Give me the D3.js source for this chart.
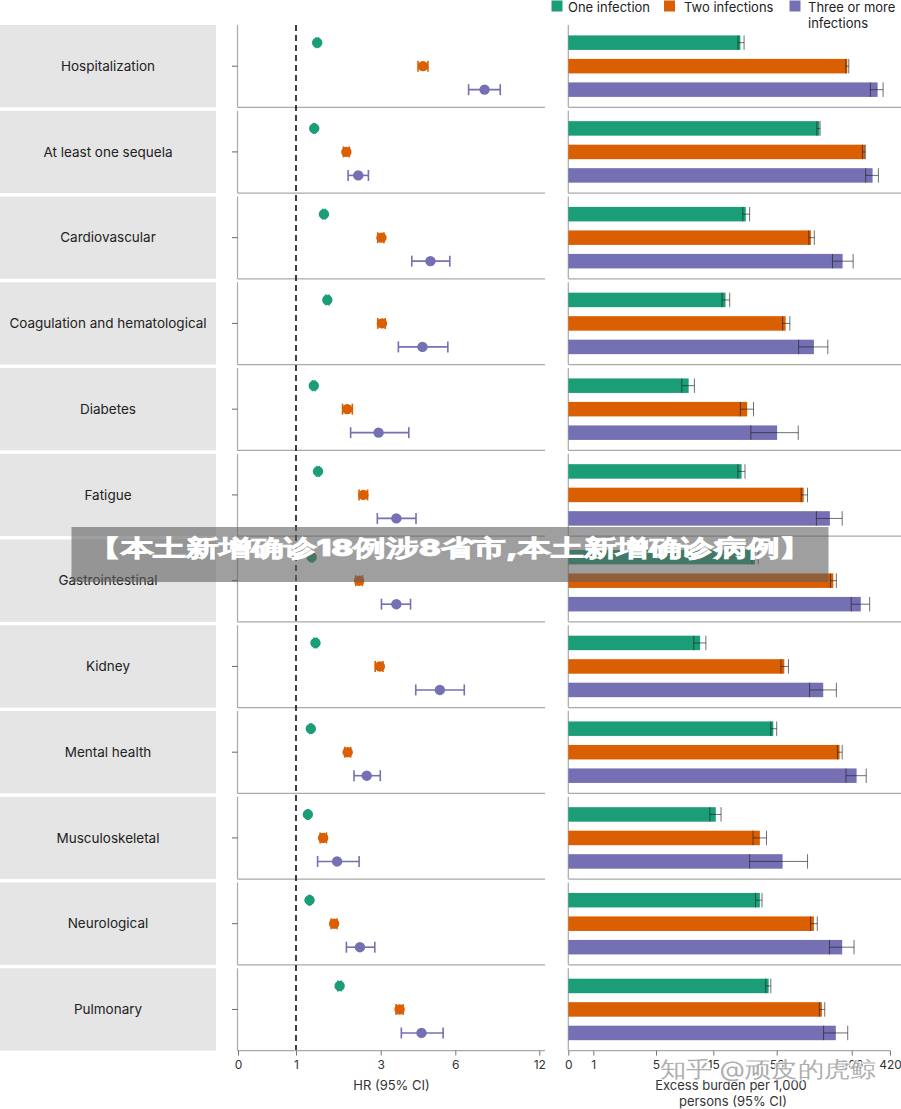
<!DOCTYPE html>
<html>
<head>
<meta charset="utf-8">
<script src="https://cdn.jsdelivr.net/npm/d3@7/dist/d3.min.js"></script>
<style>
  html, body { margin: 0; padding: 0; background: #fff; }
  svg { display: block; }
  text { font-family: Inter, "Noto Sans", "DejaVu Sans", sans-serif; }
</style>
</head>
<body>
<svg id="chart" width="901" height="1109"></svg>
<script>
// ---------------- data ----------------
const categories = ["Hospitalization", "At least one sequela", "Cardiovascular",
  "Coagulation and hematological", "Diabetes", "Fatigue", "Gastrointestinal",
  "Kidney", "Mental health", "Musculoskeletal", "Neurological", "Pulmonary"];

const seriesNames = ["One infection", "Two infections", "Three or more infections"];
const seriesColors = ["#1b9e77", "#d95f02", "#7570b3"];

// Hazard ratios (95% CI)
const hrOne     = [1.50, 1.43, 1.66, 1.74, 1.42, 1.52, 1.37, 1.46, 1.35, 1.28, 1.32, 2.03];
const hrOneLo   = [1.47, 1.41, 1.63, 1.70, 1.39, 1.49, 1.34, 1.43, 1.33, 1.26, 1.30, 1.99];
const hrOneHi   = [1.53, 1.45, 1.69, 1.78, 1.45, 1.55, 1.40, 1.49, 1.37, 1.30, 1.34, 2.07];
const hrTwo     = [4.70, 2.19, 3.03, 3.05, 2.21, 2.59, 2.49, 2.98, 2.22, 1.64, 1.90, 3.76];
const hrTwoLo   = [4.50, 2.12, 2.93, 2.93, 2.10, 2.49, 2.41, 2.87, 2.15, 1.57, 1.83, 3.62];
const hrTwoHi   = [4.90, 2.26, 3.13, 3.18, 2.33, 2.69, 2.57, 3.09, 2.29, 1.72, 1.97, 3.90];
const hrThree   = [8.09, 2.47, 5.00, 4.68, 2.95, 3.63, 3.63, 5.38, 2.67, 1.97, 2.51, 4.64];
const hrThreeLo = [6.95, 2.23, 4.25, 3.71, 2.29, 2.92, 3.03, 4.41, 2.37, 1.51, 2.19, 3.83];
const hrThreeHi = [9.21, 2.71, 5.78, 5.70, 4.13, 4.42, 4.20, 6.64, 2.99, 2.49, 2.86, 5.51];

// Excess burden per 1,000 persons (95% CI)
const bOne     = [32.5, 143, 36.0, 22.9, 10.7, 33.3, 42, 12.7, 53.8, 16.6, 45.1, 50.8];
const bOneLo   = [31.0, 138, 34.1, 20.7, 9.5, 30.9, 40, 11.6, 52.2, 14.4, 42.3, 48.9];
const bOneHi   = [34.9, 144.5, 38.5, 25.6, 11.7, 35.5, 44, 13.7, 56, 20, 46.5, 52.2];
const bTwo     = [200, 282, 125.8, 74.2, 36.9, 111.1, 171.5, 71.5, 184.3, 45.1, 131.9, 148.2];
const bTwoLo   = [197, 268, 121.5, 68.1, 32.5, 106, 165.6, 64.6, 180, 40.7, 125, 143];
const bTwoHi   = [203, 284, 132.7, 82.8, 41.0, 118.9, 177.7, 80, 189.6, 49.4, 138.8, 154];
const bThree   = [351.7, 324, 190.4, 131.9, 56.8, 164.5, 259, 150.9, 236, 68.0, 189.6, 176.6];
const bThreeLo = [312, 286, 169.8, 100.7, 39.3, 137, 208, 123, 197.4, 38.5, 163.7, 151.6];
const bThreeHi = [382, 356, 217, 160.3, 99.9, 189.6, 308, 177.7, 289, 118.9, 222, 200.9];

const hrTicks = [0, 1, 3, 6, 12];
const burdenTicks = [0, 1, 5, 15, 56, 209, 420];

const bannerText = "【本土新增确诊18例涉8省市,本土新增确诊病例】";
const watermarkText = "知乎 @顽皮的虎鲸";

// ---------------- build ----------------
const hrSets = [[hrOne, hrOneLo, hrOneHi], [hrTwo, hrTwoLo, hrTwoHi], [hrThree, hrThreeLo, hrThreeHi]];
const bSets = [[bOne, bOneLo, bOneHi], [bTwo, bTwoLo, bTwoHi], [bThree, bThreeLo, bThreeHi]];

const records = [];
categories.forEach((c, i) => {
  seriesNames.forEach((s, k) => {
    records.push({
      cat: c, s: k,
      hr: hrSets[k][0][i], hrLo: hrSets[k][1][i], hrHi: hrSets[k][2][i],
      b: bSets[k][0][i], bLo: bSets[k][1][i], bHi: bSets[k][2][i]
    });
  });
});

const svg = d3.select("#chart");

const y = d3.scaleBand().domain(categories).range([25, 1050.6]).paddingInner(0.04).paddingOuter(0);
const yIn = d3.scalePoint().domain([0, 1, 2]).range([-23.5, 23.5]);
const color = d3.scaleOrdinal().domain([0, 1, 2]).range(seriesColors);

// piecewise axes as drawn in the figure
const xHR = d3.scaleLinear().domain(hrTicks).range([238, 296, 380.7, 455.3, 539.3]);
const xB = d3.scaleLinear().domain(burdenTicks).range([568.3, 593.3, 656, 713.3, 776.7, 851.7, 890]);

const gray = "#a9a9a9";

// ---- left label boxes ----
const lab = svg.append("g");
lab.selectAll("rect").data(categories).join("rect")
  .attr("x", 0).attr("y", d => y(d)).attr("width", 216).attr("height", y.bandwidth())
  .attr("fill", "#e5e5e5");
lab.selectAll("text").data(categories).join("text")
  .attr("x", 108).attr("y", d => y(d) + y.bandwidth() / 2)
  .attr("dy", "0.35em").attr("text-anchor", "middle")
  .attr("font-size", 13.5).attr("fill", "#222").text(d => d);

// ---- middle panel frames ----
const mid = svg.append("g");
categories.forEach((c, i) => {
  const t = y(c), b = y(c) + y.bandwidth();
  mid.append("line").attr("x1", 237.5).attr("x2", 237.5).attr("y1", t).attr("y2", b)
    .attr("stroke", gray).attr("stroke-width", 1.2);
  mid.append("line").attr("x1", 232).attr("x2", 237.5).attr("y1", t + y.bandwidth() / 2).attr("y2", t + y.bandwidth() / 2)
    .attr("stroke", "#666").attr("stroke-width", 1);
  if (i < categories.length - 1) {
    mid.append("line").attr("x1", 237.5).attr("x2", 545).attr("y1", b).attr("y2", b)
      .attr("stroke", gray).attr("stroke-width", 1.2);
  }
});

// HR axis
const axHR = svg.append("g").attr("transform", `translate(0,${y(categories[categories.length - 1]) + y.bandwidth()})`)
  .call(d3.axisBottom(xHR).tickValues(hrTicks).tickSize(5).tickSizeOuter(0).tickFormat(d3.format("d")));
axHR.select(".domain").attr("stroke", gray).attr("stroke-width", 1.2).attr("d", "M237.5,0H545");
axHR.selectAll(".tick line").attr("stroke", "#777");
axHR.selectAll(".tick text").attr("font-family", "Inter, sans-serif").attr("font-size", 12).attr("fill", "#333").attr("dy", "0.9em");

// reference dashed line at HR = 1
mid.append("line").attr("x1", xHR(1)).attr("x2", xHR(1)).attr("y1", 25).attr("y2", 1052)
  .attr("stroke", "#111").attr("stroke-width", 1.6).attr("stroke-dasharray", "6,4");

// HR error bars
const hrG = svg.append("g");
hrG.selectAll("line.ci").data(records).join("line").attr("class", "ci")
  .attr("x1", d => xHR(d.hrLo)).attr("x2", d => xHR(d.hrHi))
  .attr("y1", d => y(d.cat) + y.bandwidth() / 2 + yIn(d.s))
  .attr("y2", d => y(d.cat) + y.bandwidth() / 2 + yIn(d.s))
  .attr("stroke", d => color(d.s)).attr("stroke-width", 1.6);
["hrLo", "hrHi"].forEach(k => {
  hrG.selectAll("line.cap" + k).data(records).join("line").attr("class", "cap" + k)
    .attr("x1", d => xHR(d[k])).attr("x2", d => xHR(d[k]))
    .attr("y1", d => y(d.cat) + y.bandwidth() / 2 + yIn(d.s) - 5.5)
    .attr("y2", d => y(d.cat) + y.bandwidth() / 2 + yIn(d.s) + 5.5)
    .attr("stroke", d => color(d.s)).attr("stroke-width", 1.6);
});
hrG.selectAll("circle").data(records).join("circle")
  .attr("cx", d => xHR(d.hr)).attr("cy", d => y(d.cat) + y.bandwidth() / 2 + yIn(d.s))
  .attr("r", 5.2).attr("fill", d => color(d.s));

svg.append("text").attr("x", 391.5).attr("y", 1090).attr("text-anchor", "middle")
  .attr("font-size", 13).attr("fill", "#333").text("HR (95% CI)");

// ---- right panel ----
const right = svg.append("g");
categories.forEach((c, i) => {
  const t = y(c), b = y(c) + y.bandwidth();
  right.append("line").attr("x1", 568.3).attr("x2", 568.3).attr("y1", t).attr("y2", b)
    .attr("stroke", gray).attr("stroke-width", 1.2);
  if (i < categories.length - 1) {
    right.append("line").attr("x1", 568.3).attr("x2", 901).attr("y1", b).attr("y2", b)
      .attr("stroke", gray).attr("stroke-width", 1.2);
  }
});
const barH = 14.5;
right.selectAll("rect.bar").data(records).join("rect").attr("class", "bar")
  .attr("x", xB(0)).attr("y", d => y(d.cat) + y.bandwidth() / 2 + yIn(d.s) - barH / 2)
  .attr("width", d => xB(d.b) - xB(0)).attr("height", barH)
  .attr("fill", d => color(d.s));
right.selectAll("line.bci").data(records).join("line").attr("class", "bci")
  .attr("x1", d => xB(d.bLo)).attr("x2", d => xB(d.bHi))
  .attr("y1", d => y(d.cat) + y.bandwidth() / 2 + yIn(d.s))
  .attr("y2", d => y(d.cat) + y.bandwidth() / 2 + yIn(d.s))
  .attr("stroke", "#222").attr("stroke-opacity", 0.65).attr("stroke-width", 1);
["bLo", "bHi"].forEach(k => {
  right.selectAll("line.bcap" + k).data(records).join("line").attr("class", "bcap" + k)
    .attr("x1", d => xB(d[k])).attr("x2", d => xB(d[k]))
    .attr("y1", d => y(d.cat) + y.bandwidth() / 2 + yIn(d.s) - barH / 2)
    .attr("y2", d => y(d.cat) + y.bandwidth() / 2 + yIn(d.s) + barH / 2)
    .attr("stroke", "#222").attr("stroke-opacity", 0.65).attr("stroke-width", 1);
});

const axB = svg.append("g").attr("transform", `translate(0,${y(categories[categories.length - 1]) + y.bandwidth()})`)
  .call(d3.axisBottom(xB).tickValues(burdenTicks).tickSize(5).tickSizeOuter(0).tickFormat(d3.format("d")));
axB.select(".domain").attr("stroke", gray).attr("stroke-width", 1.2).attr("d", "M568.3,0H890");
axB.selectAll(".tick line").attr("stroke", "#777");
axB.selectAll(".tick text").attr("font-family", "Inter, sans-serif").attr("font-size", 12).attr("fill", "#333").attr("dy", "0.9em");

svg.append("text").attr("x", 731).attr("y", 1090).attr("text-anchor", "middle")
  .attr("font-size", 13).attr("fill", "#333").text("Excess burden per 1,000");
svg.append("text").attr("x", 733).attr("y", 1106).attr("text-anchor", "middle")
  .attr("font-size", 13).attr("fill", "#333").text("persons (95% CI)");

// ---- legend ----
const legX = [551.5, 664, 789.5];
const leg = svg.append("g");
seriesNames.forEach((s, k) => {
  leg.append("rect").attr("x", legX[k]).attr("y", 0.5).attr("width", 11).attr("height", 11).attr("fill", seriesColors[k]);
});
leg.append("text").attr("x", 568).attr("y", 12).attr("font-size", 13).attr("fill", "#222").text(seriesNames[0]);
leg.append("text").attr("x", 684).attr("y", 12).attr("font-size", 13).attr("fill", "#222").text(seriesNames[1]);
leg.append("text").attr("x", 808).attr("y", 12).attr("font-size", 13).attr("fill", "#222").text("Three or more");
leg.append("text").attr("x", 808).attr("y", 27.5).attr("font-size", 13).attr("fill", "#222").text("infections");

// ---- overlay banner ----
svg.append("rect").attr("x", 71.5).attr("y", 527).attr("width", 757).attr("height", 55)
  .attr("fill", "rgb(95,95,95)").attr("fill-opacity", 0.6);
svg.append("text").attr("x", 450).attr("y", 556).attr("text-anchor", "middle")
  .attr("font-family", "'Noto Sans CJK SC', sans-serif").attr("font-weight", 900)
  .attr("font-size", 23).attr("fill", "#fff").attr("stroke", "#fff").attr("stroke-width", 0.7)
  .attr("textLength", 724).attr("lengthAdjust", "spacingAndGlyphs")
  .text(bannerText);

// ---- watermark ----
svg.append("text").attr("x", 768).attr("y", 1077).attr("text-anchor", "middle")
  .attr("font-family", "'Noto Sans CJK SC', sans-serif").attr("font-size", 22)
  .attr("fill", "rgba(120,120,120,0.6)").attr("stroke", "rgba(255,255,255,0.85)").attr("stroke-width", 2)
  .attr("paint-order", "stroke")
  .attr("textLength", 217).attr("lengthAdjust", "spacingAndGlyphs")
  .text(watermarkText);
</script>
</body>
</html>
